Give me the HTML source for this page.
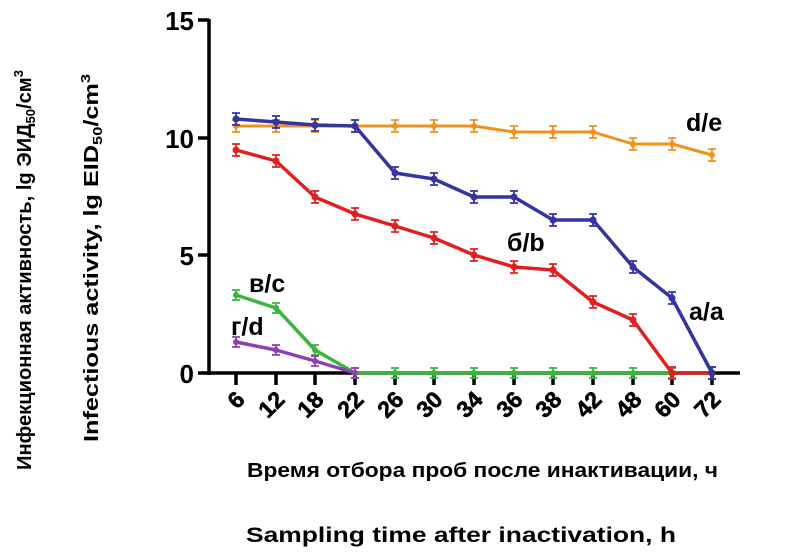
<!DOCTYPE html><html><head><style>body{margin:0;background:#fff}svg text{font-family:"Liberation Sans",sans-serif;font-weight:bold}</style></head><body>
<svg width="803" height="554" viewBox="0 0 803 554" xmlns="http://www.w3.org/2000/svg">
<defs>
<marker id="mo" markerUnits="userSpaceOnUse" markerWidth="14" markerHeight="18" refX="7" refY="9" overflow="visible"><path d="M3 3h8M7 3v12M3 15h8" stroke="#f0901e" stroke-width="1.8" fill="none"/><circle cx="7" cy="9" r="3" fill="#f0901e"/></marker>
<marker id="mr" markerUnits="userSpaceOnUse" markerWidth="14" markerHeight="18" refX="7" refY="9" overflow="visible"><path d="M3 3h8M7 3v12M3 15h8" stroke="#e02020" stroke-width="1.8" fill="none"/><circle cx="7" cy="9" r="3.5" fill="#e02020"/></marker>
<marker id="mb" markerUnits="userSpaceOnUse" markerWidth="14" markerHeight="18" refX="7" refY="9" overflow="visible"><path d="M3 3h8M7 3v12M3 15h8" stroke="#3535a0" stroke-width="1.8" fill="none"/><circle cx="7" cy="9" r="3.5" fill="#3535a0"/></marker>
<marker id="mp" markerUnits="userSpaceOnUse" markerWidth="14" markerHeight="18" refX="7" refY="9" overflow="visible"><path d="M3 4h8M7 4v10M3 14h8" stroke="#8e3fb0" stroke-width="1.8" fill="none"/><circle cx="7" cy="9" r="3" fill="#8e3fb0"/></marker>
<marker id="mg" markerUnits="userSpaceOnUse" markerWidth="14" markerHeight="18" refX="7" refY="9" overflow="visible"><path d="M3 4h8M7 4v10M3 14h8" stroke="#3cb440" stroke-width="1.8" fill="none"/><circle cx="7" cy="9" r="3" fill="#3cb440"/></marker>
</defs>
<g stroke="#000" stroke-width="3.5" fill="none">
<line x1="209" y1="19" x2="209" y2="375"/><line x1="207" y1="373" x2="740" y2="373"/>
<line x1="198" y1="20" x2="209" y2="20"/><line x1="198" y1="138" x2="209" y2="138"/><line x1="198" y1="255" x2="209" y2="255"/><line x1="198" y1="373" x2="209" y2="373"/>
</g>
<g font-size="26" text-anchor="end"><text x="194" y="30">15</text><text x="194" y="148">10</text><text x="194" y="265">5</text><text x="194" y="383">0</text></g>
<g stroke="#000" stroke-width="3.5">
<path d="M236 373v12M276 373v12M315 373v12M355 373v12M395 373v12M434 373v12M474 373v12M514 373v12M553 373v12M593 373v12M633 373v12M672 373v12M712 373v12"/>
</g>
<g font-size="23" text-anchor="end" stroke="#000" stroke-width="0.6">
<text transform="translate(246,401) rotate(-45)">6</text>
<text transform="translate(286,401) rotate(-45)">12</text>
<text transform="translate(325,401) rotate(-45)">18</text>
<text transform="translate(365,401) rotate(-45)">22</text>
<text transform="translate(405,401) rotate(-45)">26</text>
<text transform="translate(444,401) rotate(-45)">30</text>
<text transform="translate(484,401) rotate(-45)">34</text>
<text transform="translate(524,401) rotate(-45)">36</text>
<text transform="translate(563,401) rotate(-45)">38</text>
<text transform="translate(603,401) rotate(-45)">42</text>
<text transform="translate(643,401) rotate(-45)">48</text>
<text transform="translate(682,401) rotate(-45)">60</text>
<text transform="translate(722,401) rotate(-45)">72</text>
</g>
<g fill="none" stroke-width="3.5" stroke-linejoin="round">
<polyline stroke="#3cb440" marker-start="url(#mg)" marker-mid="url(#mg)" marker-end="url(#mg)" points="236,295 276,308 315,350 355,373 395,373 434,373 474,373 514,373 553,373 593,373 633,373 672,373"/>
<polyline stroke="#8e3fb0" marker-start="url(#mp)" marker-mid="url(#mp)" marker-end="url(#mp)" points="236,342 276,350 315,361 355,373"/>
<polyline stroke="#f0901e" stroke-width="3" marker-start="url(#mo)" marker-mid="url(#mo)" marker-end="url(#mo)" points="236,126 276,126 315,126 355,126 395,126 434,126 474,126 514,132 553,132 593,132 633,144 672,144 712,155"/>
<polyline stroke="#e02020" marker-start="url(#mr)" marker-mid="url(#mr)" marker-end="url(#mr)" points="236,150 276,161 315,197 355,214 395,226 434,238 474,255 514,267 553,270 593,302 633,320 672,373 712,373"/>
<polyline stroke="#3535a0" marker-start="url(#mb)" marker-mid="url(#mb)" marker-end="url(#mb)" points="236,119 276,122 315,125 355,126 395,173 434,179 474,197 514,197 553,220 593,220 633,267 672,298 712,373"/>
</g>
<g font-size="25"><text x="686" y="131">d/e</text><text x="507" y="251">б/b</text><text x="689" y="320">a/a</text><text x="249" y="292">в/с</text><text x="231" y="335">г/d</text></g>
<text transform="translate(31,470) rotate(-90)" font-size="20" textLength="400" lengthAdjust="spacingAndGlyphs">Инфекционная активность, lg ЭИД<tspan font-size="13" dy="4">50</tspan><tspan dy="-4">/см</tspan><tspan font-size="13" dy="-8">3</tspan></text>
<text transform="translate(98,442) rotate(-90)" font-size="20" textLength="368" lengthAdjust="spacingAndGlyphs">Infectious activity, lg EID<tspan font-size="13" dy="4">50</tspan><tspan dy="-4">/cm</tspan><tspan font-size="13" dy="-8">3</tspan></text>
<text x="247" y="477" font-size="20" textLength="471" lengthAdjust="spacingAndGlyphs">Время отбора проб после инактивации, ч</text>
<text x="246" y="542" font-size="21" textLength="430" lengthAdjust="spacingAndGlyphs">Sampling time after inactivation, h</text>
</svg></body></html>
